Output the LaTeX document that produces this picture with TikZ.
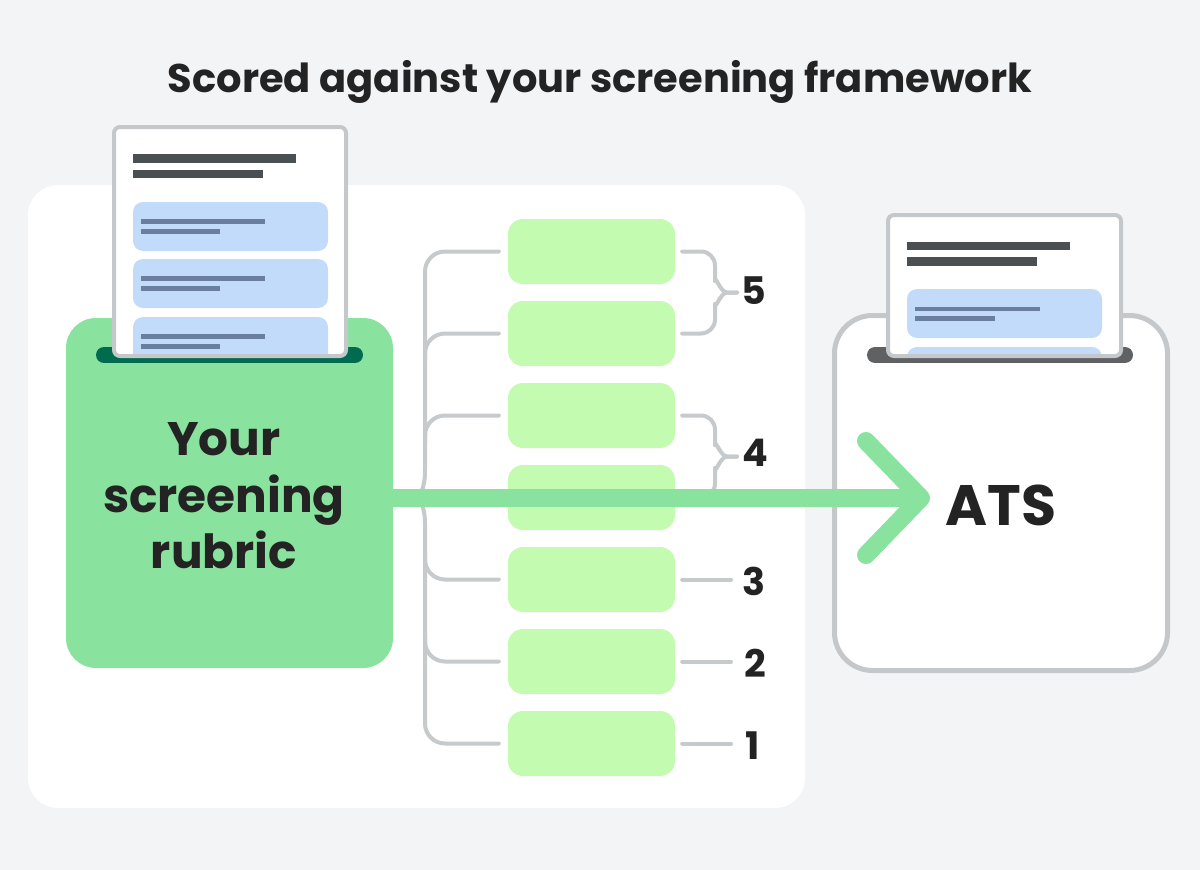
\documentclass[tikz,border=0pt]{standalone}
\usepackage{fontspec}
\setmainfont{Poppins}
\usetikzlibrary{calc}
\definecolor{bg}{HTML}{F3F4F6}
\definecolor{rubricg}{HTML}{89E39E}
\definecolor{slotg}{HTML}{006B4F}
\definecolor{slotk}{HTML}{5F6163}
\definecolor{docb}{HTML}{C5C8CB}
\definecolor{ink}{HTML}{4A5052}
\definecolor{cardc}{HTML}{C3DBFB}
\definecolor{cardln}{HTML}{6A7F9F}
\definecolor{lgreen}{HTML}{C3FBB0}
\definecolor{brk}{HTML}{C6CACD}
\definecolor{txt}{HTML}{232323}
\tikzset{
  greenbox/.style={fill=lgreen, rounded corners=15pt, minimum width=167pt, minimum height=65pt, inner sep=0pt},
  bracket/.style={draw=brk, line width=4pt, line cap=round, line join=round},
  numlabel/.style={anchor=base, text=txt, font=\bfseries\fontsize{38}{40}\selectfont, inner sep=0pt},
  docframe/.style={draw=docb, line width=4pt, rounded corners=6pt},
  cardbox/.style={fill=cardc, rounded corners=10pt},
  inkline/.style={draw=ink, line width=8.5pt},
  cardline/.style={draw=cardln, line width=4.5pt},
  arrowline/.style={draw=rubricg, line width=18pt, line cap=round, line join=round},
}
\begin{document}
\begin{tikzpicture}[x=1pt,y=-1pt]
\fill[bg] (0,0) rectangle (1200,870);
\path[use as bounding box] (0,0) rectangle (1200,870);

% title
\node[anchor=base, text=txt, font=\bfseries\fontsize{40}{48}\selectfont, inner sep=0pt] (title) at (600,92) {Scored against your screening framework};

% white panel
\fill[white, rounded corners=30pt] (28,185) rectangle (805,808);

% rubric box
\node[fill=rubricg, rounded corners=30pt, minimum width=327pt, minimum height=350pt, inner sep=0pt] (rubric) at (229.5,493) {};
\node[align=center, text=txt, font=\bfseries\fontsize{47}{56.5}\selectfont, inner sep=0pt] (rubrictext) at (224,496) {Your\\screening\\rubric};

% left slot and document
\draw[slotg, line width=16pt, line cap=round] (104,355) -- (355,355);
\fill[white, rounded corners=6pt] (114,127) rectangle (346,356);
\begin{scope}
  \clip[rounded corners=6pt] (114,127) rectangle (346,356);
  \draw[inkline] (133,158.5) -- (296,158.5);
  \draw[inkline] (133,174) -- (263,174);
  \foreach \t in {202,259,317}{
    \fill[cardbox] (133,\t) rectangle (328,\t+49);
    \draw[cardline] (141,\t+19.5) -- (265,\t+19.5);
    \draw[cardline] (141,\t+29.5) -- (220,\t+29.5);
  }
\end{scope}
\draw[docframe] (114,127) rectangle (346,356);

% ATS box
\node[draw=docb, fill=white, line width=5pt, rounded corners=38pt, minimum width=333pt, minimum height=355pt, inner sep=0pt] (ats) at (1001,493) {};
\draw[slotk, line width=16pt, line cap=round] (875,355) -- (1125,355);
\fill[white, rounded corners=6pt] (888,215) rectangle (1121,356);
\begin{scope}
  \clip[rounded corners=6pt] (888,215) rectangle (1121,356);
  \draw[inkline] (907,246) -- (1070,246);
  \draw[inkline] (907,261.5) -- (1037,261.5);
  \foreach \t in {289,347}{
    \fill[cardbox] (907,\t) rectangle (1102,\t+49);
    \draw[cardline] (915,\t+20) -- (1040,\t+20);
    \draw[cardline] (915,\t+29.5) -- (995,\t+29.5);
  }
\end{scope}
\draw[docframe] (888,215) rectangle (1121,356);

% criteria boxes
\foreach \i in {1,...,7}{
  \node[greenbox] (g\i) at (591.5,{251.5+82*(\i-1)}) {};
}

% left bracket
\draw[bracket, rounded corners=20pt] ([xshift=-9pt]g1.west) -- (425,251.5) -- (425,470);
\draw[bracket] (425,470) .. controls (425,490) and (420,497) .. (412,497.5) .. controls (420,498) and (425,505) .. (425,525);
\draw[bracket, rounded corners=20pt] (425,525) -- (425,743.5) -- ([xshift=-9pt]g7.west);
\draw[bracket, rounded corners=20pt] ([xshift=-9pt]g2.west) -- (425,333.5) -- (425,360);
\draw[bracket, rounded corners=20pt] ([xshift=-9pt]g3.west) -- (425,415.5) -- (425,442);
\draw[bracket, rounded corners=20pt] ([xshift=-9pt]g5.west) -- (425,579.5) -- (425,553);
\draw[bracket, rounded corners=20pt] ([xshift=-9pt]g6.west) -- (425,661.5) -- (425,635);

% right braces
\draw[bracket, rounded corners=14pt] ([xshift=7pt]g1.east) -- (715,251.5) -- (715,281);
\draw[bracket] (715,281) to[out=90,in=180] (727,292.5) -- (737,292.5);
\draw[bracket] (737,292.5) -- (727,292.5) to[out=180,in=-90] (715,304);
\draw[bracket, rounded corners=14pt] (715,304) -- (715,333.5) -- ([xshift=7pt]g2.east);

\draw[bracket, rounded corners=14pt] ([xshift=7pt]g3.east) -- (715,415.5) -- (715,445);
\draw[bracket] (715,445) to[out=90,in=180] (727,456.5) -- (737,456.5);
\draw[bracket] (737,456.5) -- (727,456.5) to[out=180,in=-90] (715,468);
\draw[bracket, rounded corners=14pt] (715,468) -- (715,497.5) -- ([xshift=7pt]g4.east);

\coordinate (t3) at (731,579.5);
\coordinate (t2) at (731,661.5);
\coordinate (t1) at (731,743.5);
\draw[bracket] ([xshift=7pt]g5.east) -- (t3);
\draw[bracket] ([xshift=7pt]g6.east) -- (t2);
\draw[bracket] ([xshift=7pt]g7.east) -- (t1);

% numbers
\node[numlabel] (n5) at (754,304) {5};
\node[numlabel] (n4) at (755,466) {4};
\node[numlabel] (n3) at (754,595) {3};
\node[numlabel] (n2) at (755,677) {2};
\node[numlabel] (n1) at (753,759) {1};

% arrow
\coordinate (tip) at (921,498);
\draw[arrowline, line cap=butt] (rubric.east |- tip) -- (tip);
\draw[arrowline] (866,441) -- (tip) -- (866,555);

\node[anchor=base, text=txt, font=\bfseries\fontsize{57}{60}\selectfont, inner sep=0pt] (atslabel) at (1001,525) {ATS};
\end{tikzpicture}
\end{document}
